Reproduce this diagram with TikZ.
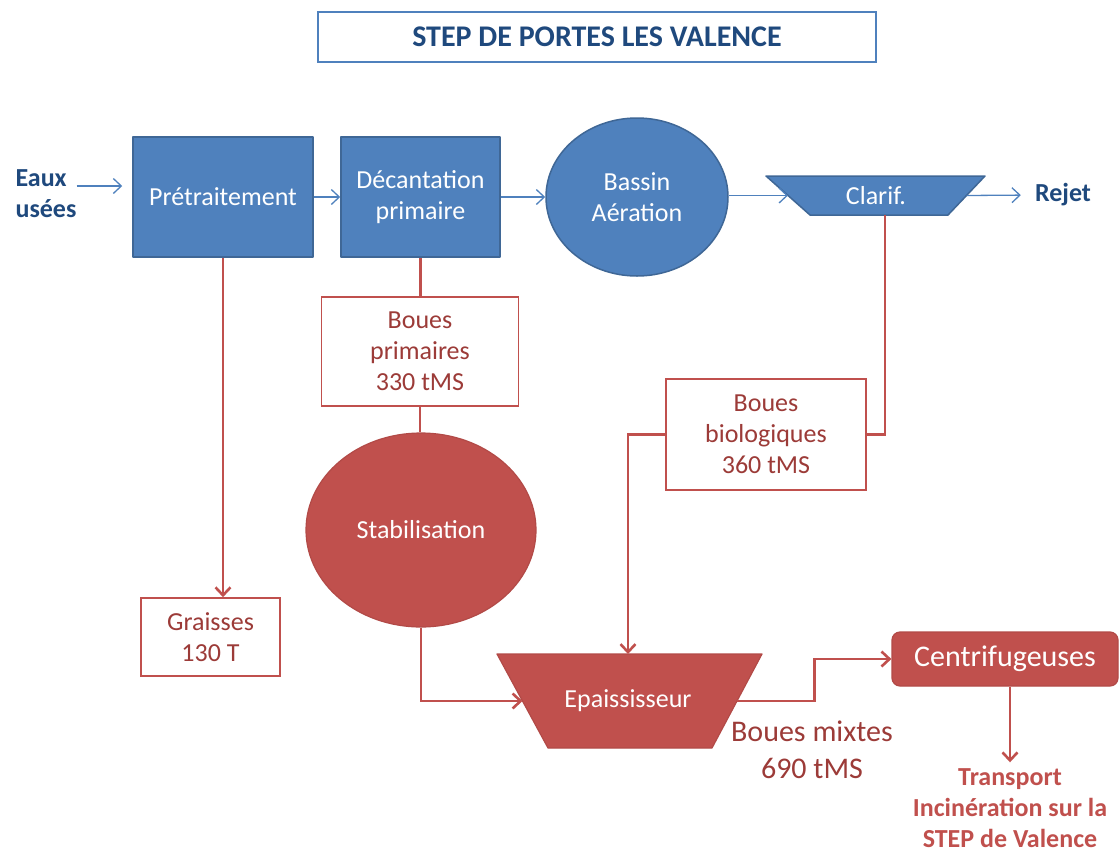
\documentclass[tikz,border=0pt]{standalone}
\usepackage{fontspec}
\setmainfont{Carlito}
\usetikzlibrary{shapes.geometric,arrows.meta,calc}
\definecolor{accblue}{HTML}{4F81BD}
\definecolor{edgeblue}{HTML}{3F6796}
\definecolor{navy}{HTML}{1F497D}
\definecolor{accred}{HTML}{C0504D}
\definecolor{edgered}{HTML}{B24A47}
\definecolor{txtred}{HTML}{9C3B38}

\begin{document}
\begin{tikzpicture}[x=1pt,y=-1pt,
  txt/.style={font=\fontsize{26}{31}\selectfont, align=center, inner sep=0pt},
  bigtxt/.style={font=\fontsize{30}{37}\selectfont, align=center, inner sep=0pt},
  bluefill/.style={fill=accblue, draw=edgeblue, line width=1.5pt, line join=round},
  bluebox/.style={txt, rectangle, bluefill, text=white},
  blueround/.style={txt, ellipse, bluefill, text=white},
  redfill/.style={fill=accred, draw=edgered, line width=1.2pt, line join=round, text=white},
  redframe/.style={txt, rectangle, fill=white, draw=accred, line width=1.6pt, text=txtred},
  bluelbl/.style={txt, font=\fontsize{26}{31}\selectfont\bfseries, text=navy},
  barrow/.style={accblue, line width=1.3pt, -{Straight Barb[length=8pt,width=15pt]}},
  rline/.style={accred, line width=2.6pt},
  rarrow/.style={rline, -{Straight Barb[length=8pt,width=15pt]}}
]
\useasboundingbox (0,0) rectangle (1120,852);

% title
\node[txt, font=\fontsize{30}{35}\selectfont\bfseries, text=navy, fill=white,
      draw=accblue, line width=1.6pt, minimum width=558pt, minimum height=50pt]
  (title) at (597,37) {STEP DE PORTES LES VALENCE};

% water line
\node[bluelbl, align=left] (eaux) at (46,194) {Eaux\\usées};
\node[bluebox, minimum width=180pt, minimum height=120pt] (pre) at (223,197) {Prétraitement};
\node[bluebox, minimum width=159pt, minimum height=120pt] (dec) at (420.5,197) {Décantation\\primaire};
\node[blueround, minimum width=182pt, minimum height=158pt] (bassin) at (637,197) {Bassin\\Aération};

% clarifier: inverted trapezium
\coordinate (clTL) at (766,176);
\coordinate (clTR) at (985,176);
\coordinate (clBR) at (948,215);
\coordinate (clBL) at (810,215);
\path[bluefill] (clTL) -- (clTR) -- (clBR) -- (clBL) -- cycle;
\node[txt, text=white] (clarif) at (876,196) {Clarif.};
\coordinate (clW) at ($(clTL)!.5!(clBL)$);
\coordinate (clE) at ($(clTR)!.5!(clBR)$);
\coordinate (clS) at (885,215);
\node[bluelbl] (rejet) at (1063,195) {Rejet};

\draw[barrow, shorten >=10pt] ([yshift=8pt]eaux.east) -- ([yshift=8pt]eaux.east -| pre.west);
\draw[barrow] (pre.east) -- (dec.west);
\draw[barrow] (dec.east) -- (dec.east -| bassin.west);
\draw[barrow] (bassin.east |- clW) -- (clW);
\draw[barrow, shorten >=14pt] (clE) -- (rejet.west);

% sludge line
\node[redframe, minimum width=197pt, minimum height=109pt] (bp) at (420,351.5) {Boues\\primaires\\330 tMS};
\node[txt, ellipse, redfill, minimum width=230pt, minimum height=194pt] (stab) at (421,530) {Stabilisation};
\node[redframe, minimum width=139pt, minimum height=78pt] (gr) at (210.5,637) {Graisses\\130 T};
\node[redframe, minimum width=200pt, minimum height=111pt] (bb) at (766,434.5) {Boues\\biologiques\\360 tMS};

% thickener: inverted trapezium
\coordinate (epTL) at (497,654);
\coordinate (epTR) at (762,654);
\coordinate (epBR) at (712,748);
\coordinate (epBL) at (548,748);
\path[redfill] (epTL) -- (epTR) -- (epBR) -- (epBL) -- cycle;
\node[txt, text=white] (epa) at (628,701) {Epaississeur};
\coordinate (epW) at ($(epTL)!.5!(epBL)$);
\coordinate (epE) at ($(epTR)!.5!(epBR)$);
\coordinate (epN) at (628,654);

\node[bigtxt, rectangle, rounded corners=8pt, redfill, minimum width=226pt, minimum height=54pt] (centri) at (1005,659) {Centrifugeuses};
\node[txt, font=\fontsize{26}{31}\selectfont\bfseries, text=accred] (transport) at (1010,808) {Transport\\Incinération sur la\\STEP de Valence};
\node[bigtxt, text=txtred] (mixtes) at (812,750) {Boues mixtes\\690 tMS};

\draw[rarrow] (pre.south) -- (pre.south |- gr.north);
\draw[rline] (dec.south) -- (dec.south |- bp.north);
\draw[rline] (bp.south) -- (bp.south |- stab.north);
\draw[rarrow] (stab.south) |- (epW);
\draw[rline] (clS) |- (bb.east);
\draw[rarrow] (bb.west) -| (epN);
\draw[rarrow] (epE) -| ($(epE)!.5!(centri.west)$) |- (centri.west);
\draw[rarrow, shorten >=6pt] (transport.north |- centri.south) -- (transport.north);
\end{tikzpicture}
\end{document}
